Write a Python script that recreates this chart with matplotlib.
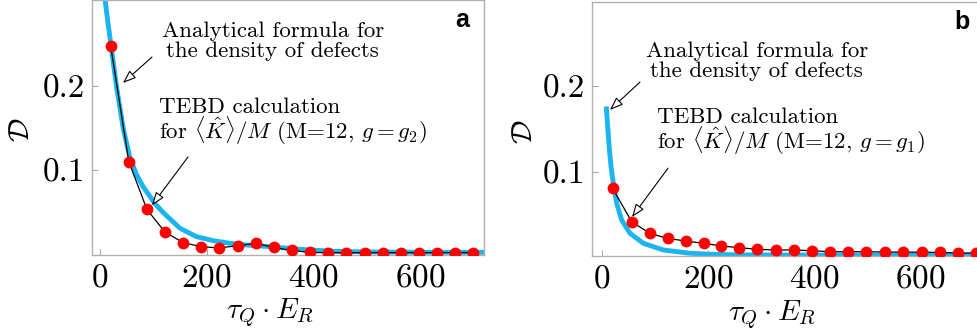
import numpy as np
import matplotlib
matplotlib.use("Agg")
import matplotlib.pyplot as plt

plt.rcParams['font.family'] = 'cmr10'
plt.rcParams['mathtext.fontset'] = 'cm'
plt.rcParams['axes.formatter.use_mathtext'] = True

# panel a: TEBD points (M=12, g=g2) and analytical curve
tau_a = [20, 54, 88, 122, 156, 190, 224, 258, 292, 326, 360, 394, 428, 462,
         496, 530, 564, 598, 632, 666, 700]
tebd_a = [0.248, 0.110, 0.053, 0.026, 0.0135, 0.0087, 0.0072, 0.0099, 0.0127,
          0.0078, 0.0042, 0.0018, 0.0016, 0.0016, 0.0016, 0.0016, 0.0016,
          0.0016, 0.0016, 0.0016, 0.0016]
curve_xa = [9, 15, 20, 31, 44, 56, 68, 81, 103, 119, 150, 181, 212, 244, 275,
            319, 375, 437, 500, 600, 720]
curve_ya = [0.305, 0.275, 0.251, 0.199, 0.148, 0.115, 0.095, 0.080, 0.060,
            0.049, 0.0306, 0.0206, 0.0159, 0.0127, 0.0107, 0.0087, 0.0055,
            0.0032, 0.0024, 0.002, 0.002]

# panel b: TEBD points (M=12, g=g1) and analytical curve
tau_b = [20, 56, 90, 124, 158, 192, 225, 259, 293, 328, 362, 396, 430, 465,
         499, 534, 568, 603, 637, 671, 706]
tebd_b = [0.0805, 0.0415, 0.028, 0.022, 0.019, 0.0163, 0.0132, 0.0112, 0.0093,
          0.0085, 0.0085, 0.0077, 0.0065, 0.0065, 0.0065, 0.0061, 0.006,
          0.006, 0.0057, 0.005, 0.005]
curve_xb = [8, 11, 14, 17.5, 21.5, 27.7, 37, 52.8, 78, 115.7, 166, 204, 260,
            400, 720]
curve_yb = [0.176, 0.150, 0.125, 0.103, 0.086, 0.063, 0.0435, 0.028, 0.0163,
            0.0085, 0.0047, 0.0035, 0.0028, 0.0025, 0.0025]

W, H = 977, 335
fig = plt.figure(figsize=(W / 100, H / 100), dpi=100)
axa = fig.add_axes([92 / W, 1 - 255 / H, 392 / W, 255 / H])
axb = fig.add_axes([592 / W, 1 - 256 / H, 391.6 / W, 254 / H])

blue = '#1cb4ef'
arrow = dict(arrowstyle='-|>,head_length=0.8,head_width=0.3', fc='white',
             ec='black', lw=0.8, shrinkA=0, shrinkB=0)


def panel(ax, cx, cy, tx, ty, xlim, ylim, g_txt, letter,
          a1, a2, t1, t2):
    ax.plot(cx, cy, color=blue, lw=3.5, solid_capstyle='butt', zorder=2)
    ax.plot(tx, ty, color='black', lw=0.9, zorder=3)
    ax.plot(tx, ty, 'o', color='red', ms=8.5, mec='none', zorder=4)
    ax.set_xlim(*xlim)
    ax.set_ylim(*ylim)
    ax.set_xticks([0, 200, 400, 600])
    ax.set_yticks([0.1, 0.2])
    ax.set_yticklabels(['0.1', '0.2'])
    ax.tick_params(direction='in', length=4, color='#aaaaaa', labelsize=24)
    ax.tick_params(axis='y', pad=5)
    ax.tick_params(axis='x', pad=6)
    for s in ax.spines.values():
        s.set_color('#b0b0b0')
        s.set_linewidth(1.0)
    ax.set_xlabel(r'$\tau_Q \cdot E_R$', fontsize=21, va='center')
    ax.set_ylabel(r'$\mathcal{D}$', fontsize=21, va='center')
    ax.annotate('', xy=a1[0], xytext=a1[1], arrowprops=arrow, zorder=5)
    ax.annotate('', xy=a2[0], xytext=a2[1], arrowprops=arrow, zorder=5)
    ax.text(t1[0], t1[1], 'Analytical formula for\nthe density of defects',
            ha='center', va='center', fontsize=16.5, linespacing=1.0)
    ax.text(t2[0], t2[1],
            'TEBD calculation\nfor $\\langle\\hat{K}\\rangle/M$ (M=12, $g=' + g_txt + '$)',
            ha='left', va='center', fontsize=16.5, linespacing=0.92)
    ax.text(0.944, 0.92, letter, transform=ax.transAxes, ha='center',
            va='center', fontsize=18, fontweight='bold',
            family='Liberation Sans')


panel(axa, curve_xa, curve_ya, tau_a, tebd_a, (-15, 720), (-0.0012, 0.3024),
      'g_2', 'a',
      ((43, 0.2036), (97.5, 0.2345)), ((97.5, 0.058), (165, 0.1155)),
      (324, 0.2536), (110.6, 0.157))
panel(axb, curve_xb, curve_yb, tau_b, tebd_b, (-18.9, 720), (0.0015, 0.298),
      'g_1', 'b',
      ((15, 0.172), (71.7, 0.2046)), ((56.6, 0.047), (124.5, 0.104)),
      (292, 0.229), (104, 0.1456))

axa.xaxis.set_label_coords(0.454, -0.227)
axa.yaxis.set_label_coords(-0.178, 0.49)
axb.xaxis.set_label_coords(0.46, -0.232)
axb.yaxis.set_label_coords(-0.172, 0.49)

fig.savefig('out.png', dpi=100)
